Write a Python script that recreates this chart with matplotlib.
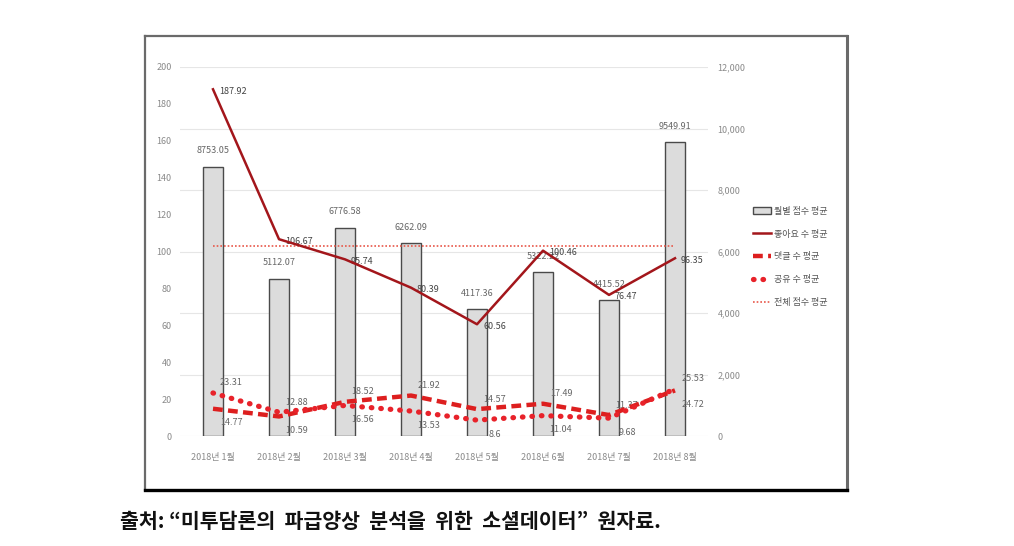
import matplotlib
matplotlib.use("Agg")
import matplotlib.pyplot as plt
from matplotlib.lines import Line2D
from matplotlib.patches import Patch

plt.rcParams["font.family"] = ["Noto Sans CJK KR", "DejaVu Sans"]

months = ["2018년 1월", "2018년 2월", "2018년 3월", "2018년 4월",
          "2018년 5월", "2018년 6월", "2018년 7월", "2018년 8월"]
score_avg = [8753.05, 5112.07, 6776.58, 6262.09, 4117.36, 5322.22, 4415.52, 9549.91]
like_avg = [187.92, 106.67, 95.74, 80.39, 60.56, 100.46, 76.47, 96.35]
comment_avg = [14.77, 10.59, 18.52, 21.92, 14.57, 17.49, 11.37, 24.72]
share_avg = [23.31, 12.88, 16.56, 13.53, 8.6, 11.04, 9.68, 25.53]
total_avg = [6180] * len(months)

left_ticks = [0, 20, 40, 60, 80, 100, 120, 140, 160, 180, 200]
right_ticks = [0, 2000, 4000, 6000, 8000, 10000, 12000]

caption = "출처: \u201c미투담론의  파급양상  분석을  위한  소셜데이터\u201d  원자료."

W, H = 1014, 546
fig = plt.figure(figsize=(W / 100, H / 100), dpi=100)
ax = fig.add_axes([180 / W, 1 - 436 / H, 528 / W, 369 / H])
ax2 = ax.twinx()
ax.set_zorder(ax2.get_zorder() + 1)
ax.patch.set_visible(False)

x = list(range(len(months)))
label_color = "#666666"
tick_color = "#8a8a8a"

# bars on the right axis
ax2.bar(x, score_avg, width=0.3, color="#dcdcdc", edgecolor="#4a4a4a",
        linewidth=1.0, zorder=2)
for xi, v in zip(x, score_avg):
    ax2.annotate(f"{v:.2f}", (xi, v), xytext=(0, 16),
                 textcoords="offset pixels", ha="center", va="center",
                 fontsize=6.5, color=label_color)
ax2.plot(x, total_avg, color="#e8584a", linestyle=(0, (1, 1.2)), linewidth=1.2,
         zorder=3)
ax2.set_ylim(0, 12000)
ax2.set_yticks(right_ticks)
ax2.set_yticklabels([f"{t:,}" for t in right_ticks])

# lines on the left axis
ax.plot(x, like_avg, color="#a3161b", linewidth=1.8, zorder=5)
ax.plot(x, comment_avg, color="#dd1f1f", linewidth=3.2,
        linestyle=(0, (2.2, 1.2)), zorder=5)
ax.plot(x, share_avg, color="#e8222a", linewidth=3.8,
        linestyle=(0, (0.1, 1.7)), dash_capstyle="round", zorder=5)

for xi, v in zip(x, like_avg):
    ax.annotate(f"{v:g}", (xi, v), xytext=(6, -2), textcoords="offset pixels",
                ha="left", va="center", fontsize=6.5, color="#444444")

for xi, c, s in zip(x, comment_avg, share_avg):
    hi, lo = max(c, s), min(c, s)
    ax.annotate(f"{hi:g}", (xi, hi), xytext=(18, 10), textcoords="offset pixels",
                ha="center", va="center", fontsize=6.5, color=label_color)
    ax.annotate(f"{lo:g}", (xi, lo), xytext=(18, -14), textcoords="offset pixels",
                ha="center", va="center", fontsize=6.5, color=label_color)

ax.set_xlim(-0.5, len(months) - 0.5)
ax.set_ylim(0, 200)
ax.set_yticks(left_ticks)
ax.set_xticks(x)
ax.set_xticklabels(months)
ax2.grid(axis="y", color="#e6e6e6", linewidth=0.8, zorder=0)
ax2.set_axisbelow(True)

for a in (ax, ax2):
    for sp in a.spines.values():
        sp.set_visible(False)
    a.tick_params(length=0, labelsize=6.5, labelcolor=tick_color)
ax.tick_params(axis="y", pad=6)
ax2.tick_params(axis="y", pad=7)
ax.tick_params(axis="x", pad=12)

handles = [
    Patch(facecolor="#dcdcdc", edgecolor="#4a4a4a", linewidth=1.0),
    Line2D([], [], color="#a3161b", linewidth=1.8),
    Line2D([], [], color="#dd1f1f", linewidth=3.2, linestyle=(0, (2.2, 1.2))),
    Line2D([], [], color="#e8222a", linewidth=3.8, linestyle=(0, (0.1, 1.7)),
           dash_capstyle="round"),
    Line2D([], [], color="#e8584a", linewidth=1.2, linestyle=(0, (1, 1.2))),
]
names = ["월별 점수 평균", "좋아요 수 평균", "댓글 수 평균", "공유 수 평균", "전체 점수 평균"]
fig.legend(handles, names, loc="center left", bbox_to_anchor=(745 / W, 1 - 257 / H),
           frameon=False, fontsize=6.5, handlelength=2.0, handletextpad=0.3,
           labelspacing=1.55, labelcolor="#555555")

# chart frame
gray = "#6a6a6a"
fx = lambda px: px / W
fy = lambda py: 1 - py / H
fig.add_artist(Line2D([fx(145), fx(145)], [fy(36), fy(490)], color=gray, linewidth=1.6))
fig.add_artist(Line2D([fx(145), fx(847)], [fy(36), fy(36)], color=gray, linewidth=1.6))
fig.add_artist(Line2D([fx(847), fx(847)], [fy(36), fy(490)], color=gray, linewidth=2.2))
fig.add_artist(Line2D([fx(145), fx(847)], [fy(490), fy(490)], color="black", linewidth=2.4))

fig.text(fx(120), fy(522), caption, fontsize=14.8, fontweight="bold",
         color="#111111", ha="left", va="center")

fig.savefig("out.png", dpi=100)
